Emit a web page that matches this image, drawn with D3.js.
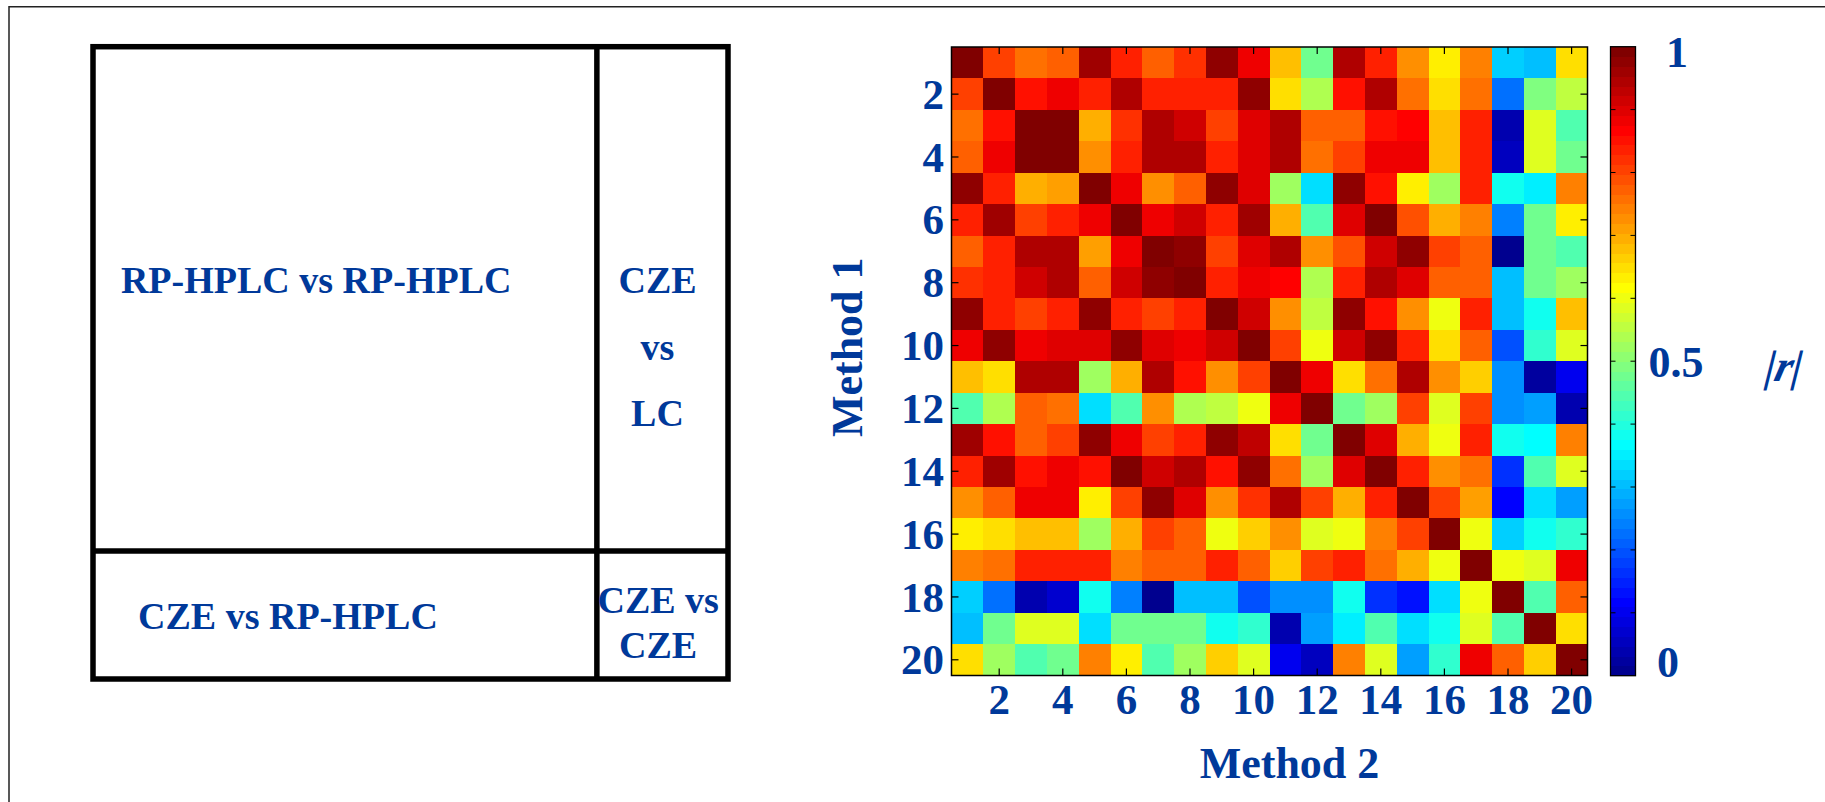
<!DOCTYPE html>
<html><head><meta charset="utf-8">
<script src="https://cdn.jsdelivr.net/npm/d3@7"></script>
<style>
html,body{margin:0;padding:0;background:#fff;}
svg{display:block;}
text{font-family:"Liberation Serif","Times New Roman",serif;font-weight:bold;fill:#00399a;}
</style>
</head><body>
<svg id="chart" width="1825" height="802"></svg>
<script>
// ---------------- data ----------------
const methods = d3.range(1, 21);
const axisTicks = [2, 4, 6, 8, 10, 12, 14, 16, 18, 20];
const colorbarTicks = [0, 0.1, 0.2, 0.3, 0.4, 0.5, 0.6, 0.7, 0.8, 0.9, 1];
const colorbarLabels = [0, 0.5, 1];
const xTitle = "Method 2";
const yTitle = "Method 1";
const cbTitle = "|r|";
// |r| correlation matrix (row = Method 1, column = Method 2)
const corr = [
 [1.00,0.81,0.76,0.77,0.96,0.83,0.78,0.82,0.97,0.88,0.68,0.47,0.95,0.84,0.72,0.625,0.74,0.32,0.30,0.65],
 [0.81,1.00,0.85,0.88,0.84,0.95,0.84,0.84,0.84,0.97,0.655,0.54,0.85,0.95,0.76,0.65,0.75,0.22,0.49,0.55],
 [0.75,0.85,1.00,1.00,0.69,0.82,0.95,0.92,0.81,0.90,0.95,0.78,0.78,0.85,0.87,0.68,0.84,0.035,0.58,0.45],
 [0.77,0.88,1.00,1.00,0.72,0.84,0.95,0.94,0.84,0.905,0.95,0.75,0.80,0.88,0.88,0.68,0.84,0.06,0.58,0.47],
 [0.97,0.83,0.70,0.71,1.00,0.88,0.72,0.77,0.97,0.90,0.53,0.34,0.98,0.85,0.625,0.52,0.84,0.375,0.35,0.74],
 [0.84,0.96,0.81,0.83,0.875,1.00,0.89,0.92,0.83,0.96,0.70,0.45,0.90,1.00,0.79,0.69,0.74,0.235,0.48,0.625],
 [0.77,0.83,0.95,0.95,0.71,0.89,1.00,0.98,0.81,0.905,0.95,0.73,0.79,0.92,0.97,0.80,0.77,0.01,0.48,0.45],
 [0.82,0.83,0.92,0.94,0.77,0.92,0.98,1.00,0.84,0.89,0.86,0.54,0.84,0.95,0.90,0.78,0.78,0.30,0.48,0.53],
 [0.97,0.83,0.81,0.84,0.97,0.84,0.81,0.83,1.00,0.92,0.73,0.56,0.98,0.85,0.73,0.60,0.84,0.30,0.375,0.68],
 [0.875,0.97,0.89,0.905,0.90,0.97,0.905,0.89,0.92,1.00,0.81,0.60,0.92,0.97,0.83,0.655,0.78,0.19,0.41,0.58],
 [0.68,0.655,0.95,0.95,0.53,0.70,0.95,0.85,0.73,0.81,1.00,0.875,0.65,0.76,0.95,0.72,0.67,0.25,0.03,0.094],
 [0.45,0.54,0.77,0.75,0.34,0.45,0.73,0.54,0.56,0.60,0.875,1.00,0.47,0.52,0.81,0.58,0.81,0.26,0.28,0.045],
 [0.96,0.85,0.77,0.80,0.98,0.89,0.80,0.83,0.98,0.93,0.65,0.47,1.00,0.90,0.69,0.60,0.84,0.375,0.36,0.74],
 [0.84,0.96,0.85,0.88,0.85,1.00,0.92,0.94,0.85,0.97,0.76,0.52,0.90,1.00,0.84,0.73,0.75,0.17,0.44,0.58],
 [0.72,0.77,0.875,0.875,0.625,0.80,0.97,0.90,0.73,0.82,0.95,0.81,0.69,0.84,1.00,0.81,0.71,0.11,0.34,0.28],
 [0.625,0.65,0.68,0.68,0.53,0.69,0.80,0.78,0.60,0.67,0.72,0.58,0.60,0.74,0.81,1.00,0.60,0.32,0.39,0.41],
 [0.74,0.76,0.84,0.84,0.84,0.74,0.77,0.77,0.84,0.77,0.67,0.81,0.84,0.75,0.70,0.60,1.00,0.60,0.59,0.89],
 [0.32,0.22,0.035,0.07,0.375,0.235,0.015,0.30,0.30,0.19,0.25,0.265,0.375,0.17,0.14,0.33,0.60,1.00,0.44,0.77],
 [0.31,0.48,0.58,0.58,0.33,0.47,0.47,0.47,0.375,0.41,0.035,0.28,0.35,0.45,0.34,0.39,0.59,0.44,1.00,0.655],
 [0.65,0.53,0.45,0.47,0.74,0.625,0.45,0.53,0.67,0.58,0.10,0.06,0.74,0.58,0.28,0.41,0.89,0.77,0.66,1.00]
];
// schematic blocks (RP-HPLC methods vs CZE methods)
const schematicSplitX = 15.87;
const schematicSplitY = 15.95;
const schematicLines = [
  {block: "tl", lines: ["RP-HPLC vs RP-HPLC"]},
  {block: "tr", lines: ["CZE", "vs", "LC"]},
  {block: "bl", lines: ["CZE vs RP-HPLC"]},
  {block: "br", lines: ["CZE vs", "CZE"]}
];

// ---------------- helpers ----------------
const NCOL = 64;
function jetCont(v) {
  const c = x => Math.max(0, Math.min(1, x));
  return d3.rgb(255 * c(1.5 - Math.abs(4 * v - 3)),
                255 * c(1.5 - Math.abs(4 * v - 2)),
                255 * c(1.5 - Math.abs(4 * v - 1)));
}
function jet64(v) {
  const idx = Math.max(0, Math.min(NCOL - 1, Math.floor(v * NCOL)));
  return jetCont((idx + 1) / NCOL).toString();
}

const svg = d3.select("#chart");

// outer frame (top and left edges)
svg.append("path")
  .attr("d", d3.line()([[9, 802], [9, 6.7], [1825, 6.7]]))
  .attr("fill", "none").attr("stroke", "#222").attr("stroke-width", 1.5);

// ---------------- schematic ----------------
const sx = d3.scaleLinear().domain([0, 20]).range([93, 728]);
const sy = d3.scaleLinear().domain([0, 20]).range([46.7, 679]);
const sch = svg.append("g");
const lw = 5.5;
sch.append("rect").attr("x", sx(0)).attr("y", sy(0))
  .attr("width", sx(20) - sx(0)).attr("height", sy(20) - sy(0))
  .attr("fill", "none").attr("stroke", "#000").attr("stroke-width", lw);
sch.append("line").attr("x1", sx(schematicSplitX)).attr("x2", sx(schematicSplitX))
  .attr("y1", sy(0)).attr("y2", sy(20)).attr("stroke", "#000").attr("stroke-width", lw);
sch.append("line").attr("x1", sx(0)).attr("x2", sx(20))
  .attr("y1", sy(schematicSplitY)).attr("y2", sy(schematicSplitY)).attr("stroke", "#000").attr("stroke-width", lw);

const blockPos = {
  tl: {cx: sx(7.03), y0: 293, dy: 0},
  tr: {cx: sx(17.78), y0: 293, dy: 66.5},
  bl: {cx: sx(6.14), y0: 629, dy: 0},
  br: {cx: sx(17.8), y0: 613, dy: 45}
};
schematicLines.forEach(b => {
  const p = blockPos[b.block];
  b.lines.forEach((t, i) => {
    sch.append("text").attr("x", p.cx).attr("y", p.y0 + i * p.dy)
      .attr("text-anchor", "middle").attr("font-size", 38).text(t);
  });
});

// ---------------- heatmap ----------------
const hx = d3.scaleBand().domain(methods).range([951.5, 1587.5]);
const hy = d3.scaleBand().domain(methods).range([47, 675.5]);
const cells = [];
corr.forEach((row, i) => row.forEach((v, j) => cells.push({r: methods[i], c: methods[j], v})));
const hm = svg.append("g");
hm.selectAll("rect.cell").data(cells).join("rect")
  .attr("class", "cell")
  .attr("x", d => hx(d.c)).attr("y", d => hy(d.r))
  .attr("width", hx.bandwidth() + 0.5).attr("height", hy.bandwidth() + 0.5)
  .attr("fill", d => jet64(d.v))
  .attr("shape-rendering", "crispEdges");

// axes box with inward ticks
const tickLen = 7;
const [x0, x1] = hx.range(), [y0, y1] = hy.range();
const tickCenterX = t => hx(t) + hx.bandwidth() / 2;
const tickCenterY = t => hy(t) + hy.bandwidth() / 2;
const tk = hm.append("g").attr("stroke", "#000").attr("stroke-width", 1.2);
axisTicks.forEach(t => {
  const x = tickCenterX(t), y = tickCenterY(t);
  tk.append("line").attr("x1", x).attr("x2", x).attr("y1", y0).attr("y2", y0 + tickLen);
  tk.append("line").attr("x1", x).attr("x2", x).attr("y1", y1).attr("y2", y1 - tickLen);
  tk.append("line").attr("y1", y).attr("y2", y).attr("x1", x0).attr("x2", x0 + tickLen);
  tk.append("line").attr("y1", y).attr("y2", y).attr("x1", x1).attr("x2", x1 - tickLen);
});
hm.append("rect").attr("x", x0).attr("y", y0).attr("width", x1 - x0).attr("height", y1 - y0)
  .attr("fill", "none").attr("stroke", "#000").attr("stroke-width", 1.5);

// tick labels
hm.selectAll("text.xl").data(axisTicks).join("text").attr("class", "xl")
  .attr("x", d => tickCenterX(d)).attr("y", 714)
  .attr("text-anchor", "middle").attr("font-size", 43).text(d => d);
hm.selectAll("text.yl").data(axisTicks).join("text").attr("class", "yl")
  .attr("x", x0 - 7.5).attr("y", d => tickCenterY(d)).attr("dy", "0.34em")
  .attr("text-anchor", "end").attr("font-size", 43).text(d => d);

// axis titles
svg.append("text").attr("x", (x0 + x1) / 2 + 20).attr("y", 778)
  .attr("text-anchor", "middle").attr("font-size", 44).text(xTitle);
svg.append("text").attr("transform", `translate(862,${(y0 + y1) / 2 - 14}) rotate(-90)`)
  .attr("text-anchor", "middle").attr("font-size", 44).text(yTitle);

// ---------------- colorbar ----------------
const cbX = 1610.5, cbW = 25;
const cy = d3.scaleLinear().domain([0, 1]).range([675.7, 46.7]);
const cb = svg.append("g");
cb.selectAll("rect.band").data(d3.range(NCOL)).join("rect").attr("class", "band")
  .attr("x", cbX).attr("width", cbW)
  .attr("y", i => cy((i + 1) / NCOL)).attr("height", i => cy(i / NCOL) - cy((i + 1) / NCOL) + 0.5)
  .attr("fill", i => jet64((i + 0.5) / NCOL))
  .attr("shape-rendering", "crispEdges");
const ctk = cb.append("g").attr("stroke", "#000").attr("stroke-width", 1);
colorbarTicks.slice(1, -1).forEach(t => {
  ctk.append("line").attr("x1", cbX).attr("x2", cbX + 5).attr("y1", cy(t)).attr("y2", cy(t));
  ctk.append("line").attr("x1", cbX + cbW).attr("x2", cbX + cbW - 5).attr("y1", cy(t)).attr("y2", cy(t));
});
cb.append("rect").attr("x", cbX).attr("y", cy(1)).attr("width", cbW).attr("height", cy(0) - cy(1))
  .attr("fill", "none").attr("stroke", "#000").attr("stroke-width", 1.3);
const labelY = d3.scaleLinear().domain([0, 1]).range([662, 52]);
cb.selectAll("text.cl").data(colorbarLabels).join("text").attr("class", "cl")
  .attr("x", d => d === 0.5 ? 1676 : (d === 0 ? 1668 : 1677))
  .attr("y", d => labelY(d) + (d === 0.5 ? 5 : 0)).attr("dy", "0.34em")
  .attr("text-anchor", "middle").attr("font-size", 44).text(d => d);
svg.append("text").attr("transform", "translate(1781,381) skewX(-14)")
  .attr("text-anchor", "middle").attr("font-size", 44).attr("font-style", "italic").text(cbTitle);
</script>
</body></html>
